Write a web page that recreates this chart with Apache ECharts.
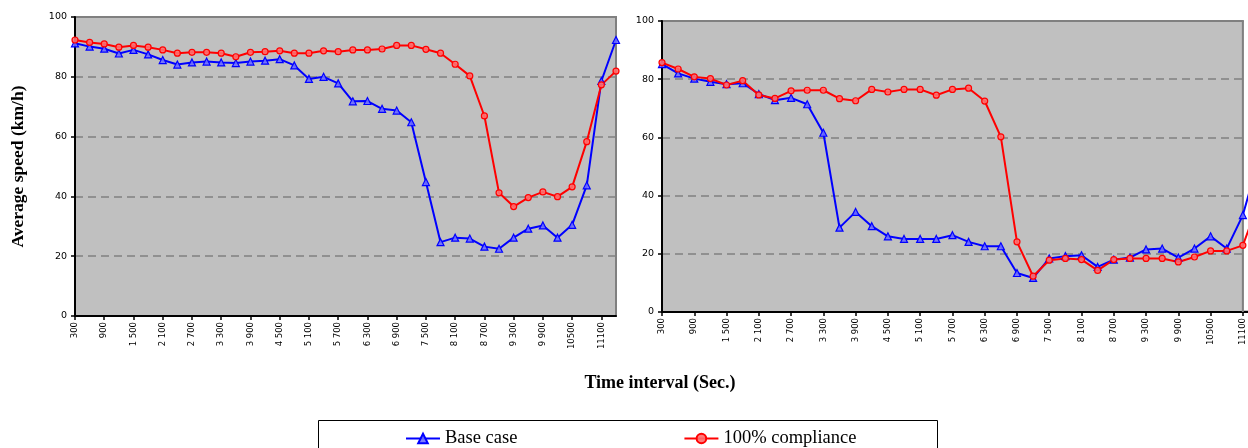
<!DOCTYPE html>
<html>
<head>
<meta charset="utf-8">
<title>Average speed</title>
<script src="https://cdn.jsdelivr.net/npm/echarts@6.0.0/dist/echarts.min.js"></script>
<style>
  html, body { margin: 0; padding: 0; background: #fff; }
  #chart { width: 1248px; height: 448px; }
</style>
</head>
<body>
<div id="chart"></div>
<script>
// 时间间隔 (秒)
const timeSlots = [300, 600, 900, 1200, 1500, 1800, 2100, 2400, 2700, 3000,
  3300, 3600, 3900, 4200, 4500, 4800, 5100, 5400, 5700, 6000,
  6300, 6600, 6900, 7200, 7500, 7800, 8100, 8400, 8700, 9000,
  9300, 9600, 9900, 10200, 10500, 10800, 11100, 11400];

// 左图
const leftBase = [91.2, 90.1, 89.4, 87.8, 89.0, 87.5, 85.6, 84.1, 84.8, 85.1,
  84.8, 84.6, 85.1, 85.4, 85.9, 83.8, 79.3, 80.0, 77.8, 71.8,
  71.9, 69.3, 68.7, 64.8, 44.8, 24.7, 26.2, 25.9, 23.2, 22.5,
  26.2, 29.2, 30.3, 26.2, 30.5, 43.7, 78.6, 92.3];
const leftFull = [92.3, 91.5, 91.0, 89.9, 90.5, 89.9, 89.0, 87.9, 88.2, 88.2,
  87.9, 86.7, 88.2, 88.4, 88.7, 87.9, 87.9, 88.7, 88.4, 89.0,
  89.0, 89.3, 90.5, 90.5, 89.2, 87.9, 84.2, 80.3, 66.9, 41.2,
  36.6, 39.6, 41.5, 39.9, 43.2, 58.3, 77.3, 81.9];

// 右图 (最后一个点在图框外)
const rightBase = [85.2, 82.0, 80.2, 79.1, 78.3, 78.6, 74.9, 72.8, 73.6, 71.4,
  61.6, 29.0, 34.4, 29.5, 26.0, 25.1, 25.1, 25.1, 26.4, 24.1,
  22.6, 22.6, 13.4, 11.7, 18.4, 19.2, 19.5, 15.5, 18.0, 18.7,
  21.5, 21.8, 18.7, 21.8, 26.0, 21.8, 33.3, 53.0];
const rightFull = [85.7, 83.5, 80.8, 80.2, 78.0, 79.5, 74.6, 73.4, 76.0, 76.2,
  76.2, 73.3, 72.6, 76.5, 75.6, 76.5, 76.5, 74.5, 76.5, 76.9,
  72.5, 60.2, 24.1, 12.3, 17.8, 18.4, 18.0, 14.3, 18.0, 18.4,
  18.4, 18.4, 17.2, 18.9, 21.0, 21.0, 22.9, 38.0];

const yTicks = [0, 20, 40, 60, 80, 100];

const chart = echarts.init(document.getElementById('chart'));

// 4 位数加空格，如 1 500
const fmtTime = v => {
  const s = String(v);
  return s.length === 4 ? s[0] + ' ' + s.slice(1) : s;
};

const makeX = idx => ({
  type: 'category',
  gridIndex: idx,
  data: timeSlots,
  boundaryGap: false,
  axisLine: { lineStyle: { color: '#000', width: 2 } },
  axisTick: { interval: 1, length: 4, lineStyle: { color: '#000', width: 1.5 } },
  axisLabel: {
    interval: 1, rotate: 90, margin: 6, color: '#000',
    fontFamily: 'DejaVu Sans', fontSize: 8.5, formatter: fmtTime
  },
  splitLine: { show: false }
});

const makeY = idx => ({
  type: 'value',
  gridIndex: idx,
  min: yTicks[0],
  max: yTicks[yTicks.length - 1],
  interval: 20,
  axisLine: { show: true, lineStyle: { color: '#000', width: 2 } },
  axisTick: { show: true, length: 4, lineStyle: { color: '#000', width: 1.5 } },
  axisLabel: { margin: 8, color: '#000', fontFamily: 'DejaVu Sans', fontSize: 9.5 },
  splitLine: { lineStyle: { color: '#808080', width: 1.5, type: [8, 5] } }
});

const baseStyle = {
  type: 'line',
  symbol: 'triangle',
  symbolSize: 7,
  lineStyle: { color: '#0000ff', width: 2 },
  itemStyle: { color: 'rgba(110,110,255,0.9)', borderColor: '#0000ff', borderWidth: 1.2 }
};
const fullStyle = {
  type: 'line',
  symbol: 'circle',
  symbolSize: 6,
  lineStyle: { color: '#ff0000', width: 2 },
  itemStyle: { color: 'rgba(255,110,110,0.9)', borderColor: '#ff0000', borderWidth: 1.2 }
};

const option = {
  animation: false,
  backgroundColor: '#fff',
  title: {
    text: 'Time interval (Sec.)',
    left: 655,
    top: 369,
    textAlign: 'center',
    textStyle: { fontFamily: 'Liberation Serif', fontWeight: 'bold', fontSize: 18, color: '#000' }
  },
  legend: {
    data: ['Base case', '100% compliance'],
    left: 400,
    top: 424,
    itemWidth: 34,
    itemHeight: 12,
    itemGap: 166,
    textStyle: { fontFamily: 'Liberation Serif', fontSize: 18.5, color: '#000' }
  },
  grid: [
    { left: 75, top: 17, right: 632, bottom: 132, show: true, outerBoundsMode: 'none',
      backgroundColor: '#c0c0c0', borderColor: '#808080', borderWidth: 2 },
    // 右图的网格延伸到画布外，11400 点落在画面右缘之外
    { left: 662, top: 21, width: 597, bottom: 136, show: true, outerBoundsMode: 'none',
      backgroundColor: '#c0c0c0', borderColor: '#808080', borderWidth: 2 }
  ],
  xAxis: [makeX(0), makeX(1)],
  yAxis: [
    Object.assign(makeY(0), {
      name: 'Average speed (km/h)',
      nameLocation: 'middle',
      nameGap: 48,
      nameTextStyle: { fontFamily: 'Liberation Serif', fontWeight: 'bold', fontSize: 17.5, color: '#000' }
    }),
    makeY(1)
  ],
  series: [
    Object.assign({ name: 'Base case', xAxisIndex: 0, yAxisIndex: 0, data: leftBase }, baseStyle),
    Object.assign({ name: '100% compliance', xAxisIndex: 0, yAxisIndex: 0, data: leftFull }, fullStyle),
    Object.assign({ name: 'Base case', xAxisIndex: 1, yAxisIndex: 1, data: rightBase }, baseStyle),
    Object.assign({ name: '100% compliance', xAxisIndex: 1, yAxisIndex: 1, data: rightFull }, fullStyle)
  ]
};

chart.setOption(option);

// 右图的图框在 11100 处结束，线条超出图框
const xEnd = chart.convertToPixel({ xAxisIndex: 1 }, timeSlots.indexOf(11100));
const yTop = chart.convertToPixel({ yAxisIndex: 1 }, 100);
const yBottom = chart.convertToPixel({ yAxisIndex: 1 }, 0);

chart.setOption({
  graphic: [
    {
      type: 'rect', z: 1, silent: true,
      shape: { x: xEnd + 1, y: yTop - 3, width: 40, height: yBottom - yTop + 1 },
      style: { fill: '#fff' }
    },
    {
      type: 'line', z: 1, silent: true,
      shape: { x1: xEnd, y1: yTop, x2: xEnd, y2: yBottom },
      style: { stroke: '#808080', lineWidth: 2 }
    },
    // 图例外框
    {
      type: 'rect', silent: true,
      shape: { x: 318.5, y: 420.5, width: 619, height: 40 },
      style: { fill: 'none', stroke: '#000', lineWidth: 1 }
    }
  ]
});
</script>
</body>
</html>
